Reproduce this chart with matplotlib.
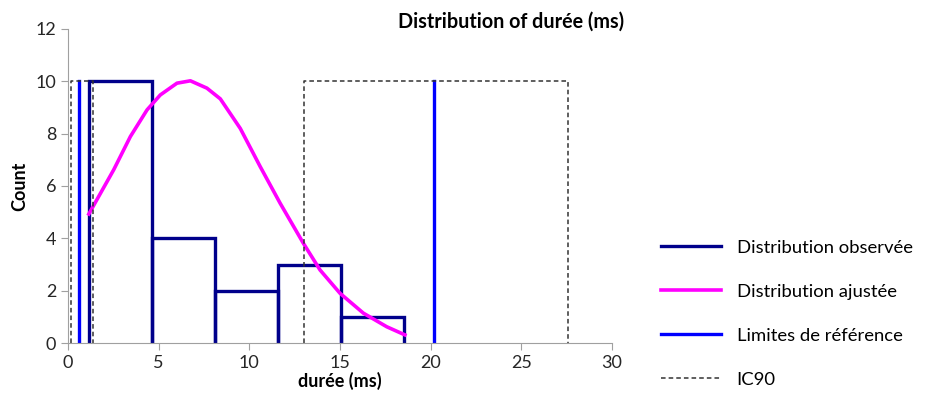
import matplotlib.pyplot as plt
import numpy as np

plt.rcParams['font.family'] = ['Lato', 'DejaVu Sans']

# observed histogram (bin edges in ms, counts)
bin_edges = [1.15, 4.63, 8.11, 11.59, 15.07, 18.55]
counts = [10, 4, 2, 3, 1]

# fitted distribution
fit_x = [1.15, 1.79, 2.52, 3.44, 4.36, 5.09, 6.01, 6.75, 7.66, 8.4, 9.5,
         10.6, 11.7, 12.98, 13.9, 15.0, 16.29, 17.58, 18.58]
fit_y = [4.93, 5.72, 6.62, 7.89, 8.91, 9.48, 9.93, 10.02, 9.74, 9.33, 8.2,
         6.74, 5.34, 3.81, 2.79, 1.90, 1.14, 0.62, 0.31]

# reference limits and their 90% confidence intervals
ref_limits = [0.6, 20.2]
ic90 = [(0.17, 1.39), (12.99, 27.6)]
ref_height = 10

navy = '#00008B'
magenta = '#FF00FF'
blue = '#0000FF'

fig = plt.figure(figsize=(9.31, 4.05), dpi=100)
ax = fig.add_axes([68 / 931, 1 - 343 / 405, 544 / 931, 314 / 405])

for i in range(len(counts)):
    l, r = bin_edges[i], bin_edges[i + 1]
    ax.plot([l, l, r, r], [0, counts[i], counts[i], 0], color=navy, lw=2.4,
            solid_joinstyle='miter', label='Distribution observée' if i == 0 else None)

ax.plot(fit_x, fit_y, color=magenta, lw=2.6, label='Distribution ajustée')

for i, xv in enumerate(ref_limits):
    ax.plot([xv, xv], [0, ref_height], color=blue, lw=2.4,
            label='Limites de référence' if i == 0 else None)

for i, (a, b) in enumerate(ic90):
    ax.plot([a, a, b, b], [0, ref_height, ref_height, 0], color='#333333', lw=1.1,
            ls=(0, (3, 2)), label='IC90' if i == 0 else None)

ax.set_xlim(0, 30)
ax.set_ylim(0, 12)
ax.set_xticks(np.arange(0, 31, 5))
ax.set_yticks(np.arange(0, 13, 2))
for s in ['top', 'right']:
    ax.spines[s].set_visible(False)
for s in ['left', 'bottom']:
    ax.spines[s].set_color('#A0A0A0')
ax.tick_params(colors='#A0A0A0', labelcolor='#262626', labelsize=13, length=5)
ax.set_xlabel('durée (ms)', fontsize=13, fontweight='bold', labelpad=1)
ax.set_ylabel('Count', fontsize=13, fontweight='bold', labelpad=5)

fig.text(511 / 931, 1 - 22 / 405, 'Distribution of durée (ms)', ha='center', va='center',
         fontsize=14.2, fontweight='bold')

fig.legend(loc='upper left', bbox_to_anchor=(644 / 931, 1 - 223 / 405), frameon=False,
           fontsize=13.3, handlelength=3.25, handletextpad=0.86, labelspacing=1.52)

fig.savefig('out.png', dpi=100)
